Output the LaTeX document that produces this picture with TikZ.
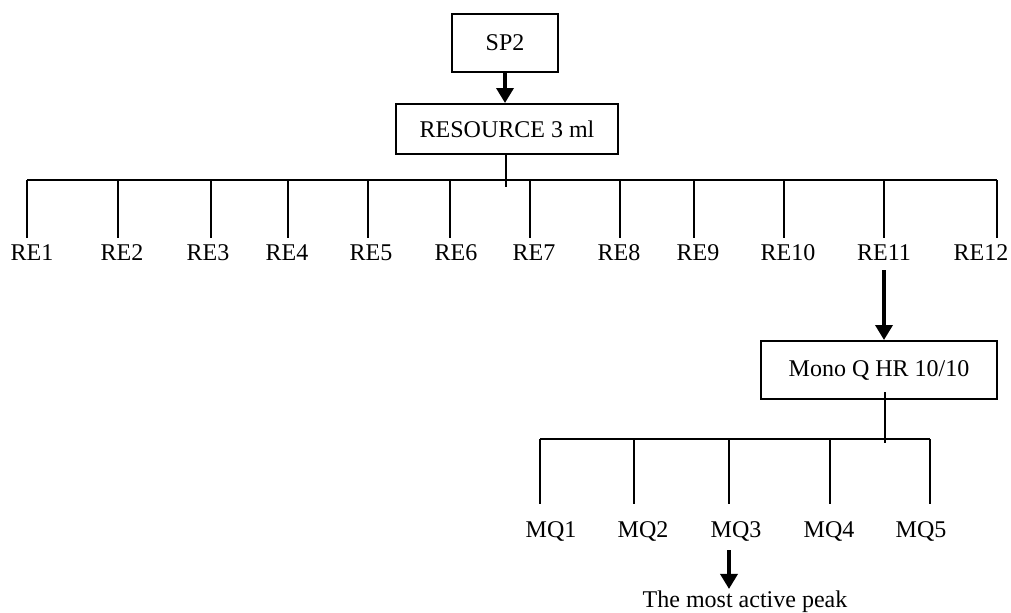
\documentclass[tikz,border=0pt]{standalone}
\usepackage{fontspec}
\setmainfont{Liberation Serif}
\usetikzlibrary{arrows.meta}

\begin{document}
\begin{tikzpicture}[x=0.5pt,y=0.5pt,yscale=-1,xscale=1,
  box/.style={draw, line width=1pt, inner sep=0pt, font=\fontsize{12}{14}\selectfont},
  lbl/.style={anchor=base, inner sep=3pt, font=\fontsize{12}{14}\selectfont},
  ln/.style={line width=1pt},
  mqleg/.style={ln, shorten >=5.5pt},
  arr/.style={line width=1.75pt, -{Triangle[length=7.5pt,width=8.5pt]}}]
\useasboundingbox (0,0) rectangle (1011,612);

% Boxes
\node [box, minimum width=53pt, minimum height=29pt] (sp) at (505,43) {SP2};
\node [box, minimum width=111pt, minimum height=25pt] (res) at (507,129) {RESOURCE 3 ml};
\node [box, minimum width=118pt, minimum height=29pt] (mono) at (879,370) {Mono Q HR 10/10};

%Straight Lines
\draw [arr] (sp.south) -- (sp.south |- res.north);
\coordinate (reEnd) at (506,187);
\draw [ln] (reEnd |- res.south) -- (reEnd);

% Branch points on the RE bar
\coordinate (t1) at (27,180);
\coordinate (t2) at (118,180);
\coordinate (t3) at (211,180);
\coordinate (t4) at (288,180);
\coordinate (t5) at (368,180);
\coordinate (t6) at (450,180);
\coordinate (t7) at (530,180);
\coordinate (t8) at (620,180);
\coordinate (t9) at (694,180);
\coordinate (t10) at (784,180);
\coordinate (t11) at (884,180);
\coordinate (t12) at (997,180);

% Text Node
\node [lbl] (RE1) at (32,260) {RE1};
\node [lbl] (RE2) at (122,260) {RE2};
\node [lbl] (RE3) at (208,260) {RE3};
\node [lbl] (RE4) at (287,260) {RE4};
\node [lbl] (RE5) at (371,260) {RE5};
\node [lbl] (RE6) at (456,260) {RE6};
\node [lbl] (RE7) at (534,260) {RE7};
\node [lbl] (RE8) at (619,260) {RE8};
\node [lbl] (RE9) at (698,260) {RE9};
\node [lbl] (RE10) at (788,260) {RE10};
\node [lbl] (RE11) at (884,260) {RE11};
\node [lbl] (RE12) at (981,260) {RE12};

%Straight Lines
\draw [ln] (t1) -- (t12);
\draw [ln] (t1) -- (t1 |- RE1.north);
\draw [ln] (t2) -- (t2 |- RE2.north);
\draw [ln] (t3) -- (t3 |- RE3.north);
\draw [ln] (t4) -- (t4 |- RE4.north);
\draw [ln] (t5) -- (t5 |- RE5.north);
\draw [ln] (t6) -- (t6 |- RE6.north);
\draw [ln] (t7) -- (t7 |- RE7.north);
\draw [ln] (t8) -- (t8 |- RE8.north);
\draw [ln] (t9) -- (t9 |- RE9.north);
\draw [ln] (t10) -- (t10 |- RE10.north);
\draw [ln] (t11) -- (t11 |- RE11.north);
\draw [ln] (t12) -- (t12 |- RE12.north);

\draw [arr, shorten <=2pt] (t11 |- RE11.south) -- (t11 |- mono.north);
\coordinate (mqEnd) at (885,443);
\draw [ln] (mqEnd |- mono.south) ++(0,-8) -- (mqEnd);

% Branch points on the MQ bar
\coordinate (q1) at (540,439);
\coordinate (q2) at (634,439);
\coordinate (q3) at (729,439);
\coordinate (q4) at (830,439);
\coordinate (q5) at (930,439);

% Text Node
\node [lbl] (MQ1) at (551,537) {MQ1};
\node [lbl] (MQ2) at (643,537) {MQ2};
\node [lbl] (MQ3) at (736,537) {MQ3};
\node [lbl] (MQ4) at (829,537) {MQ4};
\node [lbl] (MQ5) at (921,537) {MQ5};
\node [lbl, inner sep=0.5pt] (peak) at (745,607) {The most active peak};

%Straight Lines
\draw [ln] (q1) -- (q5);
\draw [mqleg] (q1) -- (q1 |- MQ1.north);
\draw [mqleg] (q2) -- (q2 |- MQ2.north);
\draw [mqleg] (q3) -- (q3 |- MQ3.north);
\draw [mqleg] (q4) -- (q4 |- MQ4.north);
\draw [mqleg] (q5) -- (q5 |- MQ5.north);
\draw [arr, shorten <=1.5pt] (q3 |- MQ3.south) -- (q3 |- peak.north);

\end{tikzpicture}
\end{document}
